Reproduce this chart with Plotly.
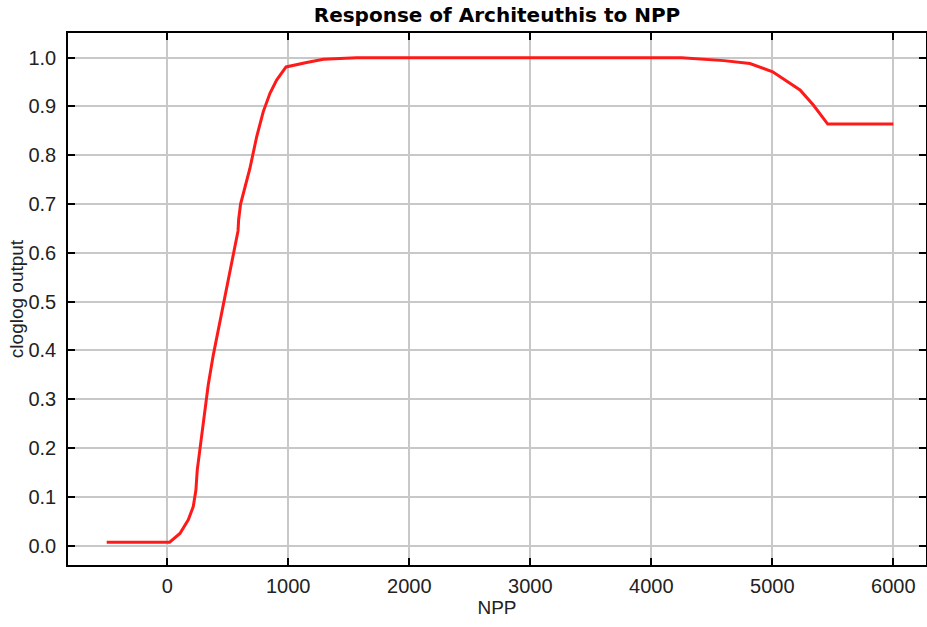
import plotly.graph_objects as go

# Data
npp = [-500, 20, 105, 174, 215, 237, 248, 270, 298, 325, 339, 380, 469, 551, 585, 590,
       606, 683, 739, 793, 849, 904, 964, 982, 1152, 1290, 1565, 4250, 4600, 4815,
       5003, 5229, 5339, 5458, 6000]
cloglog = [0.007, 0.007, 0.025, 0.053, 0.08, 0.114, 0.155, 0.2, 0.258, 0.302, 0.33, 0.39,
           0.5, 0.6, 0.645, 0.668, 0.7, 0.773, 0.838, 0.889, 0.927, 0.954, 0.975, 0.981,
           0.99, 0.997, 1.0, 1.0, 0.994, 0.988, 0.971, 0.934, 0.903, 0.864, 0.864]

title_text = "Response of Architeuthis to NPP"
x_title = "NPP"
y_title = "cloglog output"

fig = go.Figure()
fig.add_trace(go.Scatter(x=npp, y=cloglog, mode="lines",
                         line=dict(color="#ff1a1a", width=3), showlegend=False))

axis_common = dict(
    showline=True, linecolor="black", linewidth=1.5, mirror="allticks",
    ticks="inside", ticklen=7, tickcolor="black", tickwidth=1.5,
    showgrid=True, gridcolor="#c8c8c8", gridwidth=1.5, zeroline=False,
    tickfont=dict(family="Liberation Sans", size=20, color="#222"),
    automargin=False,
)

fig.update_layout(
    width=927, height=627,
    margin=dict(l=68, r=1, t=33, b=62),
    paper_bgcolor="white", plot_bgcolor="white",
    title=dict(text=title_text, xref="paper", x=0.5, xanchor="center",
               y=0.976, yanchor="middle", automargin=False,
               font=dict(family="DejaVu Sans", size=20, color="black", weight="bold")),
    xaxis=dict(range=[-820, 6270], tick0=0, dtick=1000, ticklabelstandoff=2,
               title=dict(text=x_title, standoff=3,
                          font=dict(family="Liberation Sans", size=19, color="#222")),
               **axis_common),
    yaxis=dict(range=[-0.0396, 1.0506], tick0=0, dtick=0.1, tickformat=".1f",
               ticklabelstandoff=6,
               title=dict(text=y_title, standoff=0,
                          font=dict(family="Liberation Sans", size=19, color="#222")),
               **axis_common),
)

fig.write_html("out.html", config={"displayModeBar": False},
               post_script="document.body.style.margin='0';")
